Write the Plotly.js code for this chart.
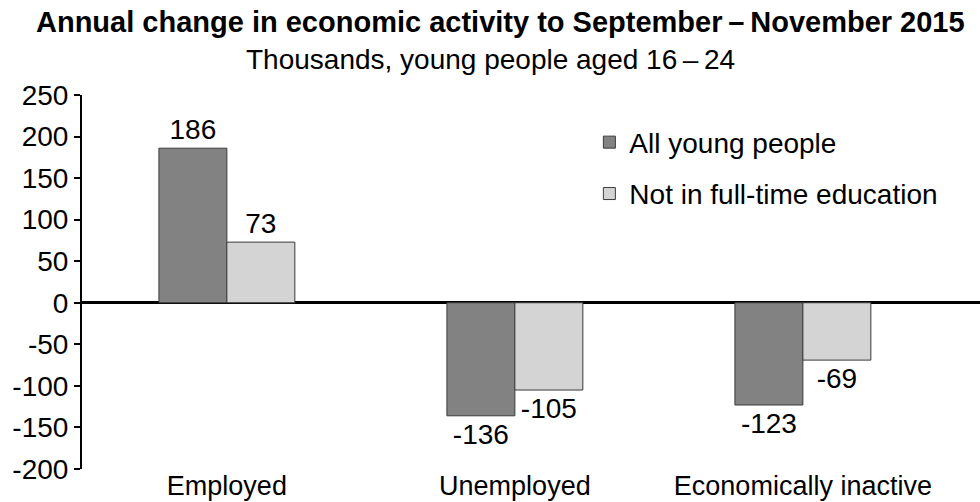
<!DOCTYPE html>
<html>
<head>
<meta charset="utf-8">
<script src="https://cdn.plot.ly/plotly-3.0.1.min.js"></script>
<style>html,body{margin:0;padding:0;background:#fff}#chart{width:980px;height:502px}</style>
</head>
<body>
<div id="chart"></div>
<script>
var categories = ["Employed", "Unemployed", "Economically inactive"];
var seriesNames = ["All young people", "Not in full-time education"];
var allYoung = [186, -136, -123];
var notInFTE = [73, -105, -69];
var yTicks = [-200, -150, -100, -50, 0, 50, 100, 150, 200, 250];
var titleText = "Annual change in economic activity to September\u2009\u2013\u2009November 2015";
var subtitleText = "Thousands, young people aged 16\u2009\u2013\u200924";

var FONT = "Liberation Sans, Arial, sans-serif";
var barLine = {color: "#3a3a3a", width: 1};

var traces = [
  {
    type: "bar", name: seriesNames[0], x: categories, y: allYoung,
    marker: {color: "#828282", line: barLine},
    text: allYoung.map(String), textposition: "outside", cliponaxis: false,
    textfont: {family: FONT, size: 28, color: "#000"},
    legendgroup: "a", hoverinfo: "x+y"
  },
  {
    type: "bar", name: seriesNames[1], x: categories, y: notInFTE,
    marker: {color: "#d4d4d4", line: barLine},
    text: notInFTE.map(String), textposition: "outside", cliponaxis: false,
    textfont: {family: FONT, size: 28, color: "#000"},
    legendgroup: "b", hoverinfo: "x+y"
  }
];

var layout = {
  width: 980, height: 502,
  margin: {l: 82, r: 0, t: 95, b: 33},
  paper_bgcolor: "#fff", plot_bgcolor: "#fff",
  font: {family: FONT, size: 28, color: "#000"},
  annotations: [
    {
      text: "<b>" + titleText + "</b>", xref: "paper", yref: "paper",
      x: 0.4655, y: 1.195, xanchor: "center", yanchor: "middle",
      showarrow: false, font: {family: FONT, size: 29, color: "#000"}
    },
    {
      text: subtitleText, xref: "paper", yref: "paper",
      x: 0.455, y: 1.0936, xanchor: "center", yanchor: "middle",
      showarrow: false, font: {family: FONT, size: 28, color: "#000"}
    }
  ],
  barmode: "group",
  bargap: 0.528,
  bargroupgap: 0,
  showlegend: true,
  legend: {
    x: 0.565, xanchor: "left", y: 0.94, yanchor: "top",
    font: {family: FONT, size: 28, color: "#000"},
    bgcolor: "rgba(0,0,0,0)", borderwidth: 0,
    tracegroupgap: 12, traceorder: "grouped"
  },
  xaxis: {
    type: "category",
    range: [-0.503, 2.615],
    showline: false, showgrid: false, zeroline: false,
    ticks: "", ticklabelstandoff: -2,
    tickfont: {family: FONT, size: 27, color: "#000"},
    fixedrange: true
  },
  yaxis: {
    range: [-200, 250],
    tickvals: yTicks, ticktext: yTicks.map(String),
    showline: true, linecolor: "#000", linewidth: 2,
    ticks: "outside", ticklen: 6, tickwidth: 2, tickcolor: "#000",
    showgrid: false,
    zeroline: true, zerolinecolor: "#000", zerolinewidth: 3,
    tickfont: {family: FONT, size: 28, color: "#000"},
    fixedrange: true
  }
};

Plotly.newPlot("chart", traces, layout, {displayModeBar: false, staticPlot: true});
</script>
</body>
</html>
